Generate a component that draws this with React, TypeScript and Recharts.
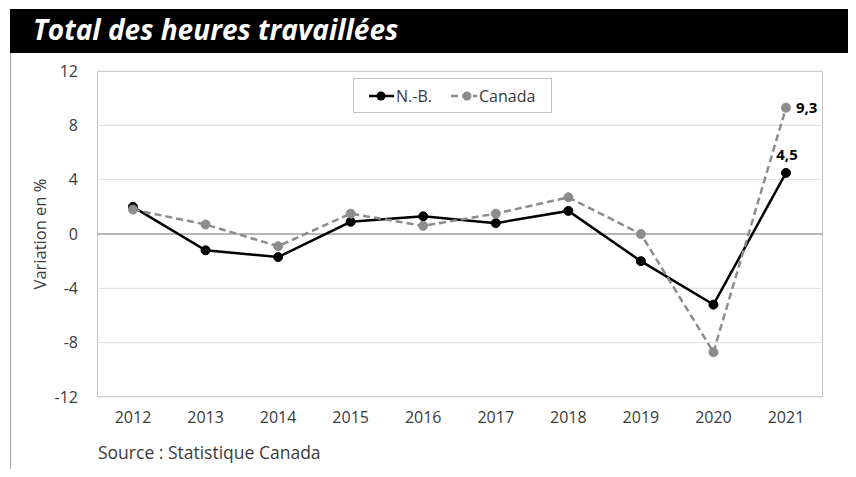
import React from "react";
import { LineChart, Line, XAxis, YAxis, CartesianGrid, ReferenceLine, LabelList } from "recharts";

const years = ["2012", "2013", "2014", "2015", "2016", "2017", "2018", "2019", "2020", "2021"];
const nbValues = [2.0, -1.2, -1.7, 0.9, 1.3, 0.8, 1.7, -2.0, -5.2, 4.5];
const canadaValues = [1.8, 0.7, -0.9, 1.5, 0.6, 1.5, 2.7, 0.0, -8.7, 9.3];
const yTicks = [-12, -8, -4, 0, 4, 8, 12];
const seriesNames = ["N.-B.", "Canada"];
const titleText = "Total des heures travaillées";
const sourceText = "Source : Statistique Canada";
const yLabel = "Variation en %";

const data = years.map((y, i) => ({ year: y, nb: nbValues[i], canada: canadaValues[i] }));

const FONT = "'Open Sans', 'DejaVu Sans', sans-serif";
const TXT = "#3a3a3a";
const NB_COLOR = "#000000";
const CA_COLOR = "#8c8c8c";

const fmt = (v: number) => v.toFixed(1).replace(".", ",");

const lastLabel = (pos: "right" | "top") => (props: any) => {
  const { x, y, value, index } = props;
  if (index !== years.length - 1) return null;
  if (pos === "right") {
    return (
      <text x={x + 10} y={y} dy="0.35em" textAnchor="start" fontSize={15} fontWeight={700} fill="#000" fontFamily={FONT}>
        {fmt(value)}
      </text>
    );
  }
  return (
    <text x={x + 1} y={y - 13} textAnchor="middle" fontSize={15} fontWeight={700} fill="#000" fontFamily={FONT}>
      {fmt(value)}
    </text>
  );
};

const YLabel = (props: any) => {
  const vb = props.viewBox || { x: 0, y: 71, width: 97, height: 326 };
  const cx = vb.x + 40;
  const cy = vb.y + vb.height / 2;
  return (
    <text
      x={cx}
      y={cy}
      transform={`rotate(-90, ${cx}, ${cy})`}
      textAnchor="middle"
      dy="0.35em"
      fontSize={16.5}
      fill={TXT}
      fontFamily={FONT}
    >
      {yLabel}
    </text>
  );
};

export default function App() {
  return (
    <div style={{ position: "relative", width: 856, height: 477, margin: -8, background: "#fff", fontFamily: FONT, overflow: "hidden" }}>
      {/* frame lines */}
      <div style={{ position: "absolute", left: 10, top: 50, width: 0, height: 430, borderLeft: "1px solid #a6a6a6" }} />
      <div style={{ position: "absolute", left: 853, top: 50, width: 0, height: 430, borderLeft: "1px solid #a6a6a6" }} />
      {/* title bar */}
      <div
        style={{
          position: "absolute",
          left: 10,
          top: 9,
          width: 846,
          height: 44,
          background: "#000",
          color: "#fff",
          fontFamily: FONT,
          fontWeight: 700,
          fontStyle: "italic",
          fontSize: 28,
          lineHeight: "40px",
          paddingLeft: 23,
          boxSizing: "border-box",
          letterSpacing: 0,
          whiteSpace: "nowrap",
        }}
      >
        {titleText}
      </div>
      {/* plot border */}
      <div style={{ position: "absolute", left: 97, top: 71, width: 726, height: 326, border: "1px solid #c4c4c4", boxSizing: "border-box" }} />
      <div style={{ position: "absolute", left: 0, top: 0 }}>
        <LineChart width={856} height={477} data={data} margin={{ top: 71, right: 33, bottom: 50, left: 0 }}>
          <CartesianGrid horizontal={true} vertical={false} stroke="#dedede" strokeWidth={1} />
          <ReferenceLine y={0} stroke="#808080" strokeWidth={1} ifOverflow="extendDomain" />
          <XAxis
            dataKey="year"
            height={30}
            axisLine={false}
            tickLine={false}
            tickSize={6}
            tickMargin={9}
            padding={{ left: 36, right: 37 }}
            tick={{ fontSize: 16, fill: TXT, fontFamily: FONT }}
            interval={0}
          />
          <YAxis
            width={97}
            domain={[-12, 12]}
            ticks={yTicks}
            axisLine={false}
            tickLine={false}
            tickSize={6}
            tickMargin={13}
            tick={{ fontSize: 16, fill: TXT, fontFamily: FONT }}
            label={<YLabel />}
          />
          <Line
            dataKey="nb"
            name={seriesNames[0]}
            stroke={NB_COLOR}
            strokeWidth={2.5}
            dot={{ r: 4.5, fill: NB_COLOR, stroke: NB_COLOR, strokeWidth: 1 }}
            isAnimationActive={false}
          >
            <LabelList dataKey="nb" content={lastLabel("top")} />
          </Line>
          <Line
            dataKey="canada"
            name={seriesNames[1]}
            stroke={CA_COLOR}
            strokeWidth={2.5}
            strokeDasharray="7 4"
            dot={{ r: 4.5, fill: CA_COLOR, stroke: CA_COLOR, strokeWidth: 1, strokeDasharray: "0" }}
            isAnimationActive={false}
          >
            <LabelList dataKey="canada" content={lastLabel("right")} />
          </Line>
        </LineChart>
      </div>
      {/* legend */}
      <div style={{ position: "absolute", left: 353, top: 78, width: 199, height: 35, border: "1px solid #c4c4c4", background: "#fff", boxSizing: "border-box" }}>
        <svg width={197} height={33} style={{ display: "block" }}>
          <line x1={15} x2={40} y1={17} y2={17} stroke={NB_COLOR} strokeWidth={2.5} />
          <circle cx={27} cy={17} r={4.5} fill={NB_COLOR} />
          <text x={42} y={17} dy="0.35em" fontSize={16} fill={TXT} fontFamily={FONT}>{seriesNames[0]}</text>
          <line x1={97} x2={123} y1={17} y2={17} stroke={CA_COLOR} strokeWidth={2.5} strokeDasharray="7 4" />
          <circle cx={113} cy={17} r={4.5} fill={CA_COLOR} />
          <text x={125} y={17} dy="0.35em" fontSize={16} fill={TXT} fontFamily={FONT}>{seriesNames[1]}</text>
        </svg>
      </div>
      {/* source */}
      <div style={{ position: "absolute", left: 98, top: 441, fontSize: 17.5, lineHeight: "22px", color: TXT, fontFamily: FONT, whiteSpace: "nowrap" }}>
        {sourceText}
      </div>
    </div>
  );
}
